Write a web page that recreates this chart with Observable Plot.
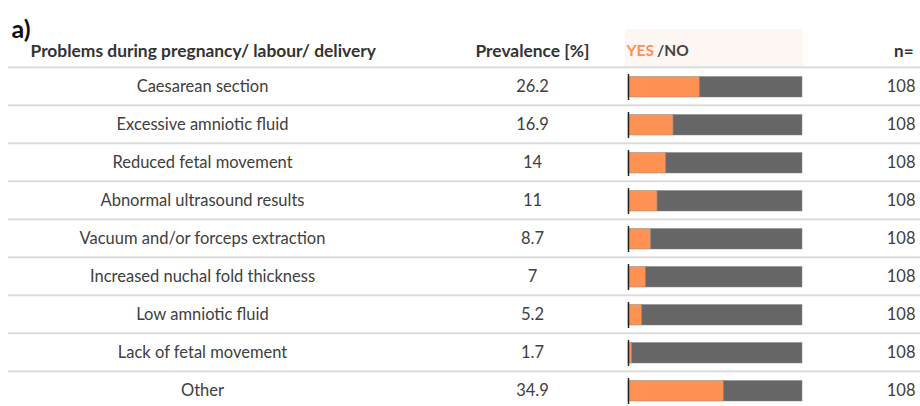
<!DOCTYPE html>
<html>
<head>
<meta charset="utf-8">
<script src="https://cdn.jsdelivr.net/npm/d3@7"></script>
<script src="https://cdn.jsdelivr.net/npm/@observablehq/plot@0.6"></script>
<style>
  html, body { margin: 0; padding: 0; background: #fff; }
  #chart svg { display: block; }
</style>
</head>
<body>
<div id="chart"></div>
<script>
// ---- data ----
const problems = [
  "Caesarean section",
  "Excessive amniotic fluid",
  "Reduced fetal movement",
  "Abnormal ultrasound results",
  "Vacuum and/or forceps extraction",
  "Increased nuchal fold thickness",
  "Low amniotic fluid",
  "Lack of fetal movement",
  "Other"
];
const prevalence = ["26.2", "16.9", "14", "11", "8.7", "7", "5.2", "1.7", "34.9"];
const yesShare = [41.0, 25.9, 21.7, 16.7, 13.0, 10.0, 7.9, 2.1, 54.8]; // bar YES share (%)
const nValues = [108, 108, 108, 108, 108, 108, 108, 108, 108];
const headers = {
  problem: "Problems during pregnancy/ labour/ delivery",
  prevalence: "Prevalence [%]",
  yes: "YES",
  no: "/NO",
  n: "n="
};
const panelLabel = "a)";

// ---- derived tables ----
const HEADER = "__header__";
const rows = problems.map((p, i) => ({problem: p, prevalence: prevalence[i], n: nValues[i], yes: yesShare[i]}));
const stacked = rows.flatMap(r => [
  {problem: r.problem, answer: "YES", value: r.yes},
  {problem: r.problem, answer: "NO", value: 100 - r.yes}
]);

const textColor = "#404040";
const orange = "#ff9152";
const grey = "#666666";
const font = "Lato, 'Open Sans', sans-serif";
const rowH = 38.3;
const firstRowTop = 27.5;

const chart = Plot.plot({
  width: 920,
  height: 406,
  marginTop: 0, marginLeft: 0, marginRight: 0, marginBottom: 0,
  style: {fontFamily: font, background: "#fff"},
  x: {domain: [0, 100], range: [628, 802], axis: null},
  y: {domain: [HEADER, ...problems], range: [firstRowTop, firstRowTop + rowH * (problems.length + 1)], padding: 0, axis: null},
  color: {domain: ["YES", "NO"], range: [orange, grey]},
  marks: [
    // header background behind YES/NO
    Plot.barX([{y: HEADER}], {x1: 0, x2: 100, y: "y", fill: "#fdf6f3", insetLeft: -3, insetRight: -1, insetBottom: 1}),
    // row separators
    Plot.ruleY(problems, {y: d => d, dy: -rowH / 2, stroke: "#dcdcdc", strokeWidth: 2, insetLeft: 8}),
    // stacked yes/no bars
    Plot.barX(stacked, {x: "value", y: "problem", fill: "answer", insetTop: 9.5, insetBottom: 8, stroke: "#888", strokeWidth: 0.5, order: ["YES", "NO"]}),
    // zero tick
    Plot.tickX(problems, {x: () => 0, y: d => d, stroke: "#222", strokeWidth: 1.5, insetTop: 7, insetBottom: 5}),
    // columns
    Plot.text(rows, {y: "problem", text: "problem", frameAnchor: "left", dx: 202, textAnchor: "middle", fill: textColor, fontSize: 16.5}),
    Plot.text(rows, {y: "problem", text: "prevalence", frameAnchor: "left", dx: 532, textAnchor: "middle", fill: textColor, fontSize: 16.5}),
    Plot.text(rows, {y: "problem", text: d => String(d.n), frameAnchor: "right", dx: -5, textAnchor: "end", fill: textColor, fontSize: 16.5}),
    // headers
    Plot.text([{y: HEADER, t: headers.problem}], {y: "y", text: "t", frameAnchor: "left", dx: 30, dy: 3, textAnchor: "start", fontWeight: "bold", fill: "#333", fontSize: 17.4}),
    Plot.text([{y: HEADER, t: headers.prevalence}], {y: "y", text: "t", frameAnchor: "left", dx: 532, dy: 3, textAnchor: "middle", fontWeight: "bold", fill: "#333", fontSize: 17.4}),
    Plot.text([{y: HEADER, t: headers.yes}], {x: () => 0, y: "y", text: "t", dx: -2, dy: 3, textAnchor: "start", fontWeight: "bold", fill: orange, fontSize: 15.5}),
    Plot.text([{y: HEADER, t: headers.no}], {x: () => 0, y: "y", text: "t", dx: 28.5, dy: 3, textAnchor: "start", fontWeight: "bold", fill: "#444", fontSize: 15.5}),
    Plot.text([{y: HEADER, t: headers.n}], {y: "y", text: "t", frameAnchor: "right", dx: -7, dy: 3, textAnchor: "end", fontWeight: "bold", fill: "#333", fontSize: 17}),
    // panel label
    Plot.text([panelLabel], {frameAnchor: "top-left", dx: 11, dy: 20, textAnchor: "start", fontWeight: "bold", fill: "#111", fontSize: 25})
  ]
});
document.getElementById("chart").appendChild(chart);
</script>
</body>
</html>
